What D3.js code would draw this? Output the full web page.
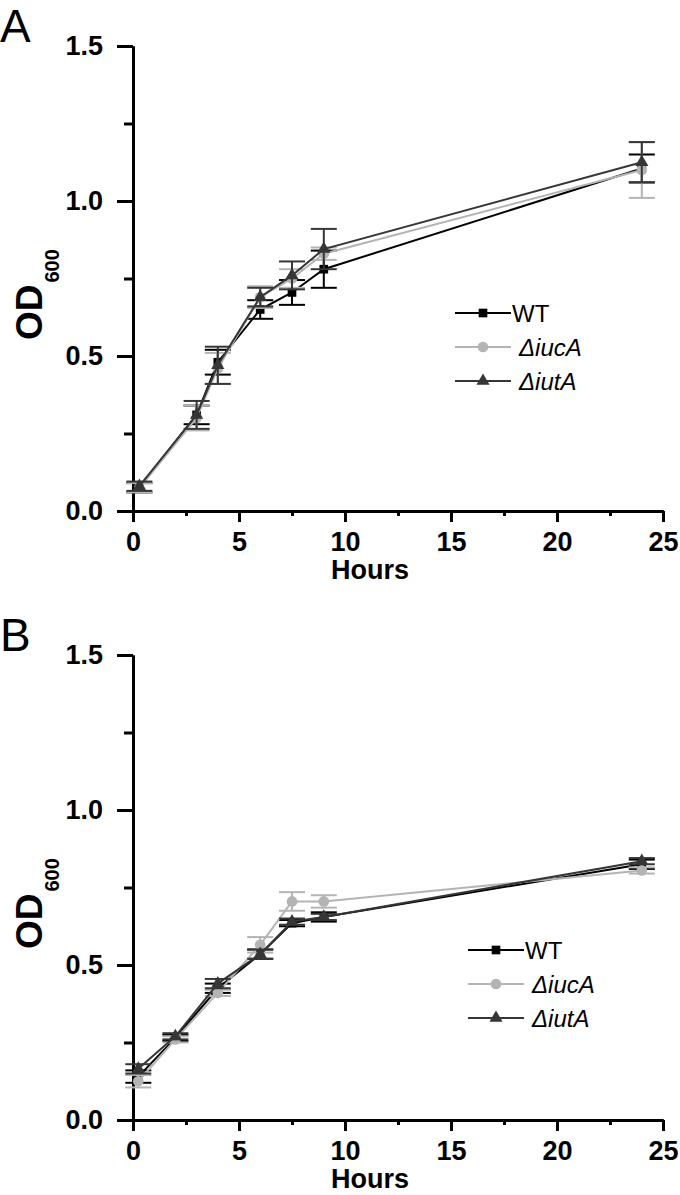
<!DOCTYPE html>
<html>
<head>
<meta charset="utf-8">
<script src="https://cdn.jsdelivr.net/npm/d3@7"></script>
<style>
  body { margin: 0; background: #fff; }
  svg { display: block; font-family: "Liberation Sans", Arial, sans-serif; }
</style>
</head>
<body>
<div id="container"></div>
<script>
const WIDTH = 680;
const HEIGHT = 1195;

// series names and colours
var seriesNames = ["WT", "\u0394iucA", "\u0394iutA"];
var seriesItalic = [false, true, true];
var seriesColors = ["#000000", "#b4b4b4", "#363636"];
var seriesShapes = [d3.symbolSquare, d3.symbolCircle, d3.symbolTriangle];

// panel A
var hoursA = [0.3, 3, 4, 6, 7.5, 9, 24];
var wtA = [0.075, 0.31, 0.48, 0.65, 0.705, 0.78, 1.105];
var iucA_A = [0.075, 0.30, 0.46, 0.69, 0.75, 0.83, 1.10];
var iutA_A = [0.08, 0.31, 0.47, 0.69, 0.76, 0.845, 1.125];
var wtErrA = [0.015, 0.03, 0.04, 0.03, 0.04, 0.06, 0.045];
var iucErrA = [0.015, 0.04, 0.05, 0.035, 0.03, 0.02, 0.09];
var iutErrA = [0.015, 0.045, 0.06, 0.03, 0.045, 0.065, 0.065];

// panel B
var hoursB = [0.25, 2, 4, 6, 7.5, 9, 24];
var wtB = [0.14, 0.265, 0.425, 0.535, 0.635, 0.655, 0.825];
var iucA_B = [0.125, 0.26, 0.41, 0.565, 0.705, 0.705, 0.805];
var iutA_B = [0.165, 0.27, 0.44, 0.535, 0.64, 0.655, 0.835];
var wtErrB = [0.02, 0.01, 0.015, 0.015, 0.01, 0.015, 0.015];
var iucErrB = [0.02, 0.01, 0.01, 0.025, 0.03, 0.02, 0.01];
var iutErrB = [0.015, 0.01, 0.015, 0.015, 0.01, 0.01, 0.01];

// axis ticks
var yMajor = [0, 0.5, 1.0, 1.5];
var yMinor = [0.25, 0.75, 1.25];
var xMajor = [0, 5, 10, 15, 20, 25];
var xMinor = [2.5, 7.5, 12.5, 17.5, 22.5];

var SVG = d3.select("#container").append("svg")
    .attr("width", WIDTH)
    .attr("height", HEIGHT);

var makeSeries = function (hours, values, errors) {
    return hours.map(function (h, i) {
        return {x: h, y: values[i], e: errors[i]};
    });
};

var styleAxis = function (g) {
    g.select(".domain").attr("stroke", "#000").attr("stroke-width", 3);
    g.selectAll(".tick line").attr("stroke", "#000").attr("stroke-width", 3);
    g.selectAll(".tick text")
        .attr("fill", "#000")
        .attr("font-size", 27)
        .attr("font-weight", "bold");
};

var drawPanel = function (offsetY, letter, series, legendX, legendY) {
    var g = SVG.append("g").attr("transform", "translate(0," + offsetY + ")");
    var x = d3.scaleLinear().domain([0, 25]).range([133, 663]);
    var y = d3.scaleLinear().domain([0, 1.5]).range([511, 46]);

    // minor ticks first, major axes on top
    g.append("g").attr("transform", "translate(133,0)")
        .call(d3.axisLeft(y).tickValues(yMinor).tickSize(9).tickSizeOuter(0).tickFormat(""))
        .call(styleAxis);
    g.append("g").attr("transform", "translate(0,511)")
        .call(d3.axisBottom(x).tickValues(xMinor).tickSize(5).tickSizeOuter(0).tickFormat(""))
        .call(styleAxis);
    g.append("g").attr("transform", "translate(133,0)")
        .call(d3.axisLeft(y).tickValues(yMajor).tickSize(16).tickSizeOuter(0)
            .tickPadding(14).tickFormat(d3.format(".1f")))
        .call(styleAxis);
    g.append("g").attr("transform", "translate(0,511)")
        .call(d3.axisBottom(x).tickValues(xMajor).tickSize(11).tickSizeOuter(0).tickPadding(10))
        .call(styleAxis);

    // titles
    g.append("text")
        .attr("x", 370).attr("y", 579)
        .attr("text-anchor", "middle")
        .attr("font-size", 27).attr("font-weight", "bold")
        .text("Hours");
    var od = g.append("text")
        .attr("transform", "translate(42,340) rotate(-90)")
        .attr("font-weight", "bold");
    od.append("tspan").attr("font-size", 37).text("OD");
    od.append("tspan").attr("font-size", 20).attr("dx", 2).attr("dy", 17).text("600");

    g.append("text")
        .attr("x", 0).attr("y", 42)
        .attr("font-size", 46)
        .text(letter);

    var line = d3.line().x(function (d) { return x(d.x); }).y(function (d) { return y(d.y); });

    series.forEach(function (s, i) {
        var color = seriesColors[i];
        var sg = g.append("g");
        sg.append("path")
            .datum(s)
            .attr("d", line)
            .attr("fill", "none")
            .attr("stroke", color)
            .attr("stroke-width", 2);
        var bars = sg.selectAll(".err").data(s).enter().append("g");
        bars.append("line")
            .attr("x1", function (d) { return x(d.x); })
            .attr("x2", function (d) { return x(d.x); })
            .attr("y1", function (d) { return y(d.y - d.e); })
            .attr("y2", function (d) { return y(d.y + d.e); })
            .attr("stroke", color).attr("stroke-width", 2);
        [-1, 1].forEach(function (sgn) {
            bars.append("line")
                .attr("x1", function (d) { return x(d.x) - 13; })
                .attr("x2", function (d) { return x(d.x) + 13; })
                .attr("y1", function (d) { return y(d.y + sgn * d.e); })
                .attr("y2", function (d) { return y(d.y + sgn * d.e); })
                .attr("stroke", color).attr("stroke-width", 2);
        });
        sg.selectAll(".pt").data(s).enter().append("path")
            .attr("transform", function (d) { return "translate(" + x(d.x) + "," + y(d.y) + ")"; })
            .attr("d", d3.symbol().type(seriesShapes[i]).size(i === 1 ? 90 : 75))
            .attr("fill", color);
    });

    // legend
    seriesNames.forEach(function (name, i) {
        var ly = legendY + i * 34;
        var lg = g.append("g");
        lg.append("line")
            .attr("x1", legendX).attr("x2", legendX + 56)
            .attr("y1", ly).attr("y2", ly)
            .attr("stroke", seriesColors[i]).attr("stroke-width", 2);
        lg.append("path")
            .attr("transform", "translate(" + (legendX + 28) + "," + ly + ")")
            .attr("d", d3.symbol().type(seriesShapes[i]).size(i === 1 ? 90 : 75))
            .attr("fill", seriesColors[i]);
        lg.append("text")
            .attr("x", legendX + 56 + (i === 0 ? 1 : 8))
            .attr("y", ly + 8.5)
            .attr("font-size", 24)
            .attr("font-style", seriesItalic[i] ? "italic" : "normal")
            .text(name);
    });
};

drawPanel(0, "A", [
    makeSeries(hoursA, wtA, wtErrA),
    makeSeries(hoursA, iucA_A, iucErrA),
    makeSeries(hoursA, iutA_A, iutErrA)
], 455, 313);

drawPanel(609, "B", [
    makeSeries(hoursB, wtB, wtErrB),
    makeSeries(hoursB, iucA_B, iucErrB),
    makeSeries(hoursB, iutA_B, iutErrB)
], 468, 341);
</script>
</body>
</html>
